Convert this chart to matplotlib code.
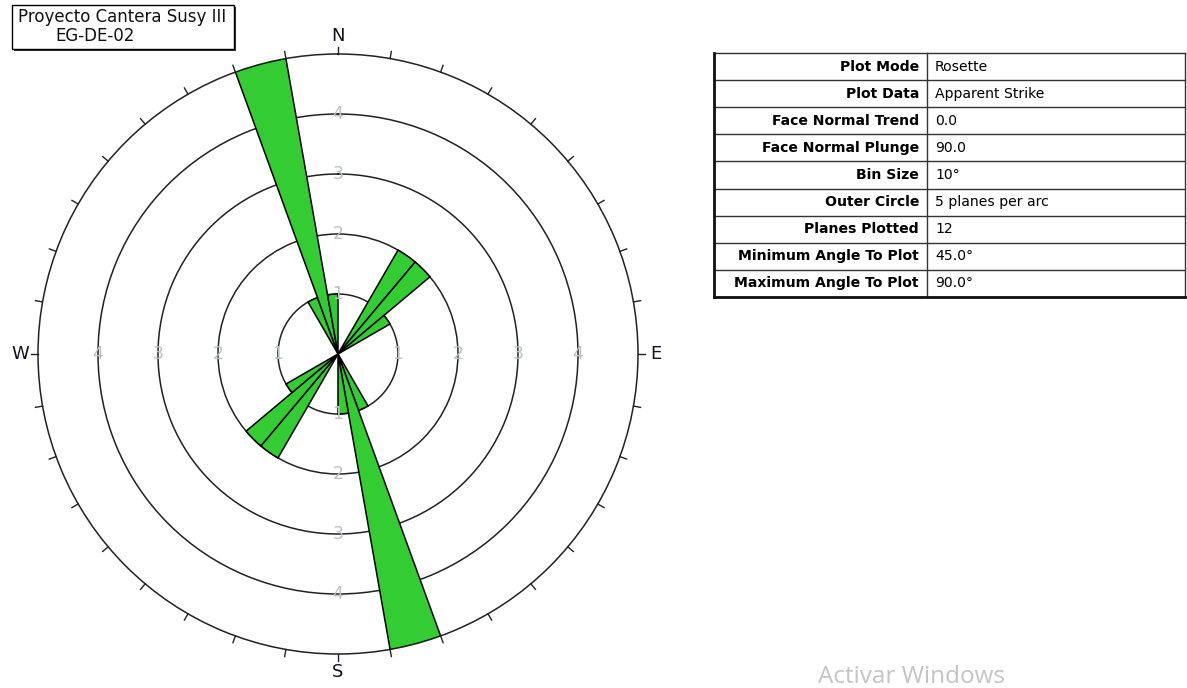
import numpy as np
import matplotlib
matplotlib.use("Agg")
import matplotlib.pyplot as plt
from matplotlib.patches import Rectangle

# Rosette data: 10-degree strike bins (start azimuth) and plane counts per bin
bin_starts = [30, 40, 50, 150, 160, 170, 210, 220, 230, 330, 340, 350]
bin_counts = [2, 2, 1, 1, 5, 1, 2, 2, 1, 1, 5, 1]
bin_size = 10
outer_circle = 5
ring_values = [1, 2, 3, 4]

title_lines = ["Proyecto Cantera Susy III", "EG-DE-02"]

table_keys = ["Plot Mode", "Plot Data", "Face Normal Trend", "Face Normal Plunge",
              "Bin Size", "Outer Circle", "Planes Plotted",
              "Minimum Angle To Plot", "Maximum Angle To Plot"]
table_vals = ["Rosette", "Apparent Strike", "0.0", "90.0", "10°",
              "5 planes per arc", "12", "45.0°", "90.0°"]

W, H = 1187, 688
fig = plt.figure(figsize=(W / 100, H / 100), dpi=100)
fig.patch.set_facecolor("white")

# Overlay axes in pixel coordinates for the title box, table and watermark
ov = fig.add_axes([0, 0, 1, 1])
ov.set_xlim(0, W)
ov.set_ylim(H, 0)
ov.axis("off")

# Title box with drop shadow
ov.add_patch(Rectangle((14, 7), 222, 44, facecolor="#333333", edgecolor="none", zorder=1))
ov.add_patch(Rectangle((12, 5), 222, 44, facecolor="white", edgecolor="black", lw=1, zorder=2))
ov.text(18, 17, title_lines[0], fontsize=12, family="DejaVu Sans", va="center", ha="left",
        color="#111111", zorder=3)
ov.text(55, 36, title_lines[1], fontsize=12, family="DejaVu Sans", va="center", ha="left",
        color="#111111", zorder=3)

# Properties table
tx0, tx1, tcol = 714, 1185, 927
ty0 = 53
row_h = 27.1
n = len(table_keys)
ty1 = ty0 + n * row_h
for i in range(n + 1):
    y = ty0 + i * row_h
    ov.plot([tx0, tx1], [y, y], color="#333333", lw=1, zorder=2)
ov.plot([tx0, tx0], [ty0, ty1], color="#111111", lw=2, zorder=3)
ov.plot([tx1, tx1], [ty0, ty1], color="#333333", lw=1, zorder=2)
ov.plot([tx0, tx1], [ty1, ty1], color="#111111", lw=2, zorder=3)
ov.plot([tcol, tcol], [ty0, ty1], color="#333333", lw=1, zorder=2)
for i, (k, v) in enumerate(zip(table_keys, table_vals)):
    yc = ty0 + (i + 0.5) * row_h
    ov.text(919, yc, k, fontsize=10.1, fontweight="bold", family="DejaVu Sans",
            ha="right", va="center", color="#000000")
    ov.text(935, yc, v, fontsize=10.1, family="DejaVu Sans",
            ha="left", va="center", color="#000000")

ov.text(912, 677, "Activar Windows", fontsize=17.5, family="Open Sans", color="#c4c4c4",
        ha="center", va="center")

# Rosette polar axes: centre at (338, 354) px, outer radius 300 px
cx, cy, R = 338, 354, 300
pax = fig.add_axes([(cx - R) / W, (H - cy - R) / H, 2 * R / W, 2 * R / H], projection="polar")
pax.set_theta_zero_location("N")
pax.set_theta_direction(-1)
pax.set_ylim(0, outer_circle)
pax.set_facecolor("none")

pax.set_yticks(ring_values)
pax.set_yticklabels([])
pax.yaxis.grid(True, color="#222222", lw=1.1)
pax.tick_params(axis="y", length=0)
pax.set_xticks([])
pax.xaxis.grid(False)
pax.spines["polar"].set_linewidth(1.1)
pax.spines["polar"].set_color("#222222")

# Outward ticks every 10 degrees on the outer circle
for az in np.arange(0, 360, 10):
    t = np.deg2rad(az)
    pax.plot([t, t], [outer_circle, outer_circle * 1.024], color="#222222", lw=1,
             clip_on=False, zorder=2)

theta = np.deg2rad(np.array(bin_starts) + bin_size / 2)
pax.bar(theta, bin_counts, width=np.deg2rad(bin_size), bottom=0,
        color="#33cc33", edgecolor="black", linewidth=1.1, zorder=3)

# Ring value labels along the four cardinal directions
for az in [0, 90, 180, 270]:
    for rv in ring_values:
        pax.text(np.deg2rad(az), rv, str(rv), fontsize=12.5, family="DejaVu Sans",
                 color="#bcc0c8", ha="center", va="center", zorder=4)

for az, lab in [(0, "N"), (90, "E"), (180, "S"), (270, "W")]:
    pax.text(np.deg2rad(az), 5.3, lab, fontsize=13, family="DejaVu Sans",
             color="#111122", ha="center", va="center", clip_on=False)

fig.savefig("out.png", dpi=100, facecolor="white")
